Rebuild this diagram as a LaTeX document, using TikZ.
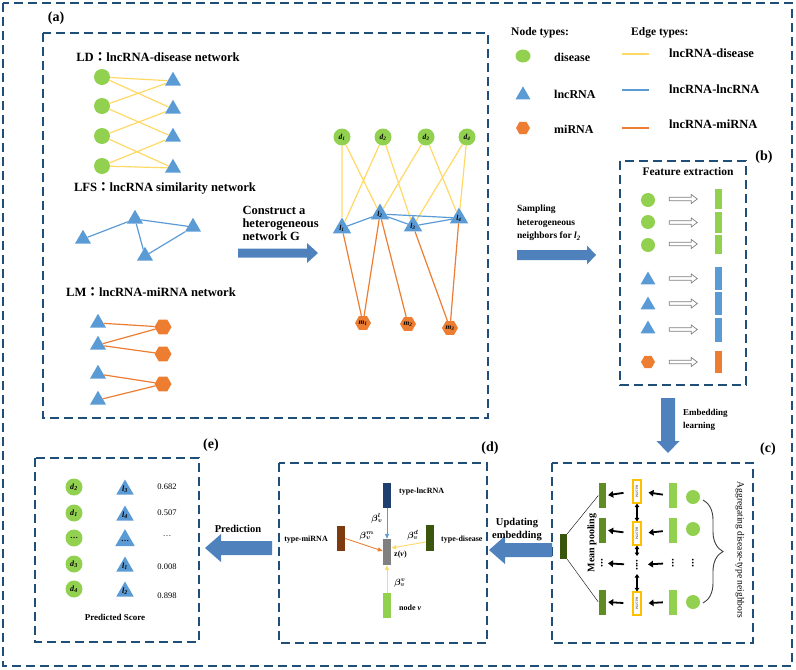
\documentclass[tikz,border=0pt]{standalone}
\usepackage{fontspec}
\usepackage{bm}
\setmainfont{Liberation Serif}
\newfontfamily\cjk{Noto Sans CJK TC}
\usetikzlibrary{shapes.geometric,arrows.meta,decorations.pathreplacing}
\definecolor{frameblue}{RGB}{31,78,121}
\definecolor{dgreen}{RGB}{146,208,80}
\definecolor{lblue}{RGB}{91,155,213}
\definecolor{orng}{RGB}{237,125,49}
\definecolor{yel}{RGB}{255,217,102}
\definecolor{arrblue}{RGB}{79,129,189}
\definecolor{olivec}{RGB}{95,140,35}
\definecolor{darkolive}{RGB}{58,85,12}
\definecolor{navyc}{RGB}{31,64,110}
\definecolor{brownr}{RGB}{125,58,15}
\definecolor{goldb}{RGB}{255,192,0}
\newcommand{\nlab}[2]{\textbf{\textit{#1}}\textsubscript{\textbf{\textit{#2}}}}
\newcommand{\myharrow}[6]{\fill[arrblue] (#1,{#3-(#4)}) -- ({#2-(#6)},{#3-(#4)}) -- ({#2-(#6)},{#3-(#5)}) -- (#2,#3) -- ({#2-(#6)},{#3+(#5)}) -- ({#2-(#6)},{#3+(#4)}) -- (#1,{#3+(#4)}) -- cycle;}
\newcommand{\myvarrow}[6]{\fill[arrblue] ({#1-(#4)},#2) -- ({#1-(#4)},{#3-(#6)}) -- ({#1-(#5)},{#3-(#6)}) -- (#1,#3) -- ({#1+(#5)},{#3-(#6)}) -- ({#1+(#4)},{#3-(#6)}) -- ({#1+(#4)},#2) -- cycle;}
\newcommand{\hollowarr}[2]{\draw[draw=gray, line width=0.7pt, fill=white, line join=miter] ([yshift=1.8pt]#1) -- ([xshift=-6pt,yshift=1.8pt]#2) -- ([xshift=-6pt,yshift=4.5pt]#2) -- (#2) -- ([xshift=-6pt,yshift=-4.5pt]#2) -- ([xshift=-6pt,yshift=-1.8pt]#2) -- ([yshift=-1.8pt]#1) -- cycle;}
\tikzset{
 dframe/.style={draw=frameblue, line width=2.4pt, dash pattern=on 9pt off 5pt},
 dis/.style={circle, fill=dgreen, inner sep=0pt, minimum size=#1},
 lnc/.style={regular polygon, regular polygon sides=3, fill=lblue, inner sep=0pt, minimum size=#1},
 mir/.style={regular polygon, regular polygon sides=6, fill=orng, inner sep=0pt, minimum size=#1},
 ld/.style={draw=yel, line width=1.2pt},
 ll/.style={draw=lblue, line width=1.2pt},
 lm/.style={draw=orng, line width=1.2pt},
 fs/.style={font=\fontsize{#1}{#1}\selectfont\bfseries},
 fr/.style={font=\fontsize{#1}{#1}\selectfont},
 bar/.style={rectangle, inner sep=0pt, minimum width=7pt, minimum height=#1},
 carr/.style={-{Triangle[length=5pt,width=6.5pt]}, line width=1.8pt},
 dbl/.style={{Triangle[length=3.5pt,width=4.5pt]}-{Triangle[length=3.5pt,width=4.5pt]}, line width=1.1pt},
 thinarr/.style={-{Triangle[length=5pt,width=4pt]}, line width=0.9pt},
 bil/.style={rectangle, draw=goldb, line width=1.2pt, fill=white, inner sep=0pt, minimum width=8pt, minimum height=23pt},
 beta/.style={font=\fontsize{9}{9}\selectfont, inner sep=0pt},
}
\begin{document}
\begin{tikzpicture}[x=1pt,y=-1pt]
\useasboundingbox (0,0) rectangle (796,670);
% ---------- frames ----------
\draw[dframe] (3,3) rectangle (792,666);
\draw[dframe] (43,33) rectangle (488,418);
\draw[dframe] (620,161) rectangle (746,385);
\draw[dframe] (552,463) rectangle (753,643);
\draw[dframe] (279,463) rectangle (487,643);
\draw[dframe] (35,458) rectangle (199,642);
\node[fs=14] (lbla) at (56,18) {(a)};
\node[fs=14] (lblb) at (764,157) {(b)};
\node[fs=14] (lblc) at (768,449) {(c)};
\node[fs=14] (lbld) at (490,448) {(d)};
\node[fs=14] (lble) at (211,445) {(e)};
% ---------- LD ----------
\node[fs=12.6] (tLD) at (158,57) {LD{\cjk ：}lncRNA-disease network};
\foreach \i/\y in {1/77,2/106,3/136,4/166} \node[dis=16] (ldc\i) at (102,\y) {};
\foreach \i/\y in {1/81,2/109,3/137,4/168} \node[lnc=18.5] (ldt\i) at (173,\y) {};
\draw[ld] (ldc1) -- (ldt1) (ldc1) -- (ldt2) (ldc2) -- (ldt1) (ldc2) -- (ldt3)
          (ldc3) -- (ldt2) (ldc3) -- (ldt4) (ldc4) -- (ldt3) (ldc4) -- (ldt4);
% ---------- LFS ----------
\node[fs=12.6] (tLFS) at (165,188) {LFS{\cjk ：}lncRNA similarity network};
\node[lnc=18.5] (lf1) at (83,239) {};
\node[lnc=18.5] (lf2) at (135,219) {};
\node[lnc=18.5] (lf3) at (193,227) {};
\node[lnc=18.5] (lf4) at (145,256) {};
\draw[ll] (lf1) -- (lf2) (lf2) -- (lf3) (lf2) -- (lf4) (lf4) -- (lf3);
% ---------- LM ----------
\node[fs=12.6] (tLM) at (151,292) {LM{\cjk ：}lncRNA-miRNA network};
\foreach \i/\y in {1/323,2/345,3/374,4/400} \node[lnc=18.5] (lmt\i) at (98,\y) {};
\foreach \i/\y in {1/327,2/354,3/384} \node[mir=17] (lmh\i) at (163,\y) {};
\draw[lm] (lmt1) -- (lmh1) (lmt2) -- (lmh1) (lmt2) -- (lmh2) (lmt3) -- (lmh3) (lmt4) -- (lmh3);
% ---------- construct ----------
\node[align=left, anchor=west, font=\fontsize{12.5}{13}\selectfont\bfseries] (tcons) at (239,223) {Construct a\\heterogeneous\\network G};
\myharrow{238}{318}{253}{4.5}{10}{11}
% ---------- heterogeneous network ----------
\foreach \i/\x in {1/342,2/383,3/426,4/467} \node[dis=17, font=\fontsize{7.5}{7.5}\selectfont] (hd\i) at (\x,137) {\nlab{d}{\i}};
\node[lnc=21, font=\fontsize{7.5}{7.5}\selectfont] (hl1) at (342,228) {\nlab{l}{1}};
\node[lnc=21, font=\fontsize{7.5}{7.5}\selectfont] (hl2) at (380,214) {\nlab{l}{2}};
\node[lnc=21, font=\fontsize{7.5}{7.5}\selectfont] (hl3) at (413,226) {\nlab{l}{3}};
\node[lnc=21, font=\fontsize{7.5}{7.5}\selectfont] (hl4) at (459,218) {\nlab{l}{4}};
\node[mir=16, font=\fontsize{7.5}{7.5}\selectfont] (hm1) at (363,323) {\nlab{m}{1}};
\node[mir=16, font=\fontsize{7.5}{7.5}\selectfont] (hm2) at (408,324) {\nlab{m}{2}};
\node[mir=16, font=\fontsize{7.5}{7.5}\selectfont] (hm3) at (450,328) {\nlab{m}{3}};
\draw[ld] (hd1) -- (hl1) (hd1) -- (hl2) (hd2) -- (hl1) (hd2) -- (hl3)
          (hd3) -- (hl2) (hd3) -- (hl4) (hd4) -- (hl3) (hd4) -- (hl4);
\draw[ll] (hl1) -- (hl2) (hl2) -- (hl4) (hl2) -- (hl3) (hl3) -- (hl4);
\draw[lm] (hl1) -- (hm1) (hl2) -- (hm1) (hl2) -- (hm2) (hl3) -- (hm3) (hl4) -- (hm3);
% ---------- legend ----------
\node[fs=11.5, anchor=west, inner sep=0pt] (lgn) at (511,33) {Node types:};
\node[fs=11.5, anchor=west, inner sep=0pt] (lge) at (631,33) {Edge types:};
\node[ellipse, fill=dgreen, inner sep=0pt, minimum width=15pt, minimum height=13pt] (lg1) at (523,56) {};
\node[lnc=17.3] (lg2) at (523,95) {};
\node[mir=14] (lg3) at (523,128) {};
\node[fs=12, anchor=west, inner sep=0pt] (lgt1) at (554,57) {disease};
\node[fs=12, anchor=west, inner sep=0pt] (lgt2) at (554,94) {lncRNA};
\node[fs=12, anchor=west, inner sep=0pt] (lgt3) at (554,129) {miRNA};
\coordinate (le1a) at (622,54); \coordinate (le1b) at (649,54);
\coordinate (le2a) at (622,90); \coordinate (le2b) at (649,90);
\coordinate (le3a) at (622,128); \coordinate (le3b) at (649,128);
\draw[ld] (le1a) -- (le1b);
\draw[ll] (le2a) -- (le2b);
\draw[lm] (le3a) -- (le3b);
\node[fs=12.5, anchor=west, inner sep=0pt] (lge1) at (669,53) {lncRNA-disease};
\node[fs=12.5, anchor=west, inner sep=0pt] (lge2) at (669,89) {lncRNA-lncRNA};
\node[fs=12.5, anchor=west, inner sep=0pt] (lge3) at (669,124) {lncRNA-miRNA};
% ---------- sampling ----------
\node[anchor=west, align=left, inner sep=0pt, font=\fontsize{9.5}{13.5}\selectfont\bfseries] (tsamp) at (517,223) {Sampling\\heterogeneous\\neighbors for \nlab{l}{2}};
\myharrow{517}{596}{255}{5}{9.5}{9}
% ---------- panel b ----------
\node[fs=11.5] (tfe) at (688,172) {Feature extraction};
\node[dis=14] (bc1) at (648,200) {};
\node[dis=14] (bc2) at (648,222) {};
\node[dis=14] (bc3) at (648,245) {};
\node[lnc=17] (bc4) at (648,280) {};
\node[lnc=17] (bc5) at (648,305) {};
\node[lnc=17] (bc6) at (648,329) {};
\node[mir=14] (bc7) at (648,362) {};
\node[bar=20, fill=dgreen] (br1) at (718,199) {};
\node[bar=21, fill=dgreen] (br2) at (718,222.5) {};
\node[bar=19, fill=dgreen] (br3) at (718,244) {};
\node[bar=23, fill=lblue] (br4) at (718,278.5) {};
\node[bar=23, fill=lblue] (br5) at (718,303.5) {};
\node[bar=24, fill=lblue] (br6) at (718,329.5) {};
\node[bar=22, fill=orng] (br7) at (718,362) {};
\foreach \i in {1,...,7} {
  \coordinate (bs\i) at ([xshift=-45pt]br\i.west);
  \coordinate (be\i) at ([xshift=-17pt]br\i.west);
  \hollowarr{bs\i}{be\i}
}
% ---------- embedding learning ----------
\myvarrow{668}{398}{453}{7}{11.5}{12}
\node[anchor=west, align=left, inner sep=0pt, font=\fontsize{9}{13}\selectfont\bfseries] (temb) at (683,419.5) {Embedding\\learning};
% ---------- panel c ----------
\node[bar=25, fill=darkolive] (cM) at (563.5,546.5) {};
\node[bar=25, fill=olivec] (cA1) at (602,495.5) {};
\node[bar=25, fill=olivec] (cA2) at (602,530) {};
\node[bar=25, fill=olivec] (cA4) at (602,602) {};
\coordinate (cA3) at (602,563);
\node[bil] (cB1) at (637,491.5) {};
\node[bil] (cB2) at (637,533.5) {};
\node[bil] (cB4) at (637,603.5) {};
\coordinate (cB3) at (637,565);
\foreach \i in {1,2,4} \node[rotate=-90, font=\fontsize{3.2}{3.2}\selectfont, inner sep=0pt] (cBt\i) at (cB\i) {BiLSTM};
\node[bar=25, minimum width=8pt, fill=dgreen] (cL1) at (673,495.5) {};
\node[bar=25, minimum width=8pt, fill=dgreen] (cL2) at (673,530.5) {};
\node[bar=25, minimum width=8pt, fill=dgreen] (cL4) at (673,602) {};
\coordinate (cL3) at (673,563);
\node[dis=14] (cC1) at (693,497) {};
\node[dis=14] (cC2) at (693,529) {};
\node[dis=14] (cC4) at (693,602) {};
\coordinate (cC3) at (693,563);
\foreach \c in {cA3,cL3,cC3} \node[rotate=90, font=\fontsize{11}{11}\selectfont\bfseries, inner sep=0pt] (dots\c) at (\c) {...};
\node[rotate=90, font=\fontsize{11}{11}\selectfont\bfseries, inner sep=0pt] (dotscB3) at (cB3) {....};
\draw (cM.north east) -- (cA1.west);
\draw (cM.south east) -- (cA4.west);
\foreach \i in {1,2,4} {
  \draw[carr, shorten <=6pt, shorten >=7pt] (cL\i.west) -- (cB\i.east);
  \draw[carr, shorten <=9pt, shorten >=2.5pt] (cB\i.west) -- (cA\i.east);
}
\draw[carr, shorten <=10pt, shorten >=11pt] (cL3) -- (cB3);
\draw[carr, shorten <=13pt, shorten >=6pt] (cB3) -- (cA3);
\draw[dbl] (cB1.south) -- (cB2.north);
\draw[dbl] (cB2.south) -- ([yshift=9pt]cB3);
\draw[dbl] ([yshift=-9pt]cB3) -- (cB4.north);
\coordinate (brT) at (703,500);
\coordinate (brB) at (703,603);
\draw[draw=black!75, line width=0.9pt, decorate, decoration={brace, amplitude=20pt}] (brT) -- (brB);
\node[rotate=90, font=\fontsize{10}{10}\selectfont\bfseries] (tmean) at (592,543) {Mean pooling};
\node[rotate=-90, font=\fontsize{9.5}{9.5}\selectfont] (tagg) at (740,550) {Aggregating disease-type neighbors};
% ---------- updating ----------
\myharrow{552}{489}{550}{7}{14}{-16}
\node[align=center, font=\fontsize{10.5}{13}\selectfont\bfseries] (tupd) at (517,529.5) {Updating\\embedding};
% ---------- panel d ----------
\node[bar=25, minimum width=8pt, fill=navyc] (dL) at (387,495.5) {};
\node[bar=25, minimum width=8pt, fill=brownr] (dM) at (341,538.5) {};
\node[bar=26, minimum width=8pt, fill=darkolive] (dD) at (430,538) {};
\node[bar=26, minimum width=8pt, fill=gray] (dZ) at (387,552) {};
\node[bar=25, minimum width=8pt, fill=dgreen] (dV) at (387,605.5) {};
\node[fs=8, anchor=west, inner sep=0pt] (tdl) at (399,492) {type-lncRNA};
\node[fs=8, anchor=east, inner sep=0pt] (tdm) at (328,540) {type-miRNA};
\node[fs=8, anchor=west, inner sep=0pt] (tdd) at (441,540) {type-disease};
\node[fs=8, anchor=west, inner sep=0pt] (tdz) at (394,555) {z(\textit{v})};
\node[fs=8, anchor=west, inner sep=0pt] (tdv) at (399,608) {node \textit{v}};
\draw[thinarr, draw=lblue] (dL.south) -- (dZ.north);
\draw[thinarr, draw=orng] (dM.east) -- ([yshift=1pt]dZ.west);
\draw[thinarr, draw=yel] ([yshift=-4pt]dD.west) -- ([yshift=4pt]dZ.east);
\draw[thinarr, draw=yel] (dV.north) -- (dZ.south);
\node[beta] (bl) at (377,518) {$\bm{\beta_v^l}$};
\node[beta] (bm) at (367,536) {$\bm{\beta_v^m}$};
\node[beta] (bd) at (413,535) {$\bm{\beta_v^d}$};
\node[beta] (bv) at (400,583) {$\bm{\beta_v^v}$};
% ---------- prediction ----------
\myharrow{272}{205}{548}{7}{14}{-16}
\node[fs=10.5] (tpred) at (238,529) {Prediction};
% ---------- panel e ----------
\foreach \i/\y/\t in {1/487/2,2/513/1,4/564/3,5/589/4} \node[dis=17, font=\fontsize{8}{8}\selectfont] (ec\i) at (74,\y) {\nlab{d}{\t}};
\node[dis=17, font=\fontsize{8}{8}\selectfont\bfseries] (ec3) at (74,538) {…};
\foreach \i/\y/\t in {1/487/3,2/513/4,4/564/1,5/589/2} \node[lnc=20, font=\fontsize{8}{8}\selectfont] (et\i) at (125,{\y+2.5}) {\nlab{l}{\t}};
\node[lnc=20, font=\fontsize{8}{8}\selectfont\bfseries] (et3) at (125,540.5) {…};
\node[fr=8.5] (es1) at (167,487) {0.682};
\node[fr=8.5] (es2) at (167,513) {0.507};
\node[fr=8.5] (es3) at (167,536) {…};
\node[fr=8.5] (es4) at (167,567) {0.008};
\node[fr=8.5] (es5) at (167,596) {0.898};
\node[fs=9] (tps) at (115,617) {Predicted Score};
\end{tikzpicture}
\end{document}
